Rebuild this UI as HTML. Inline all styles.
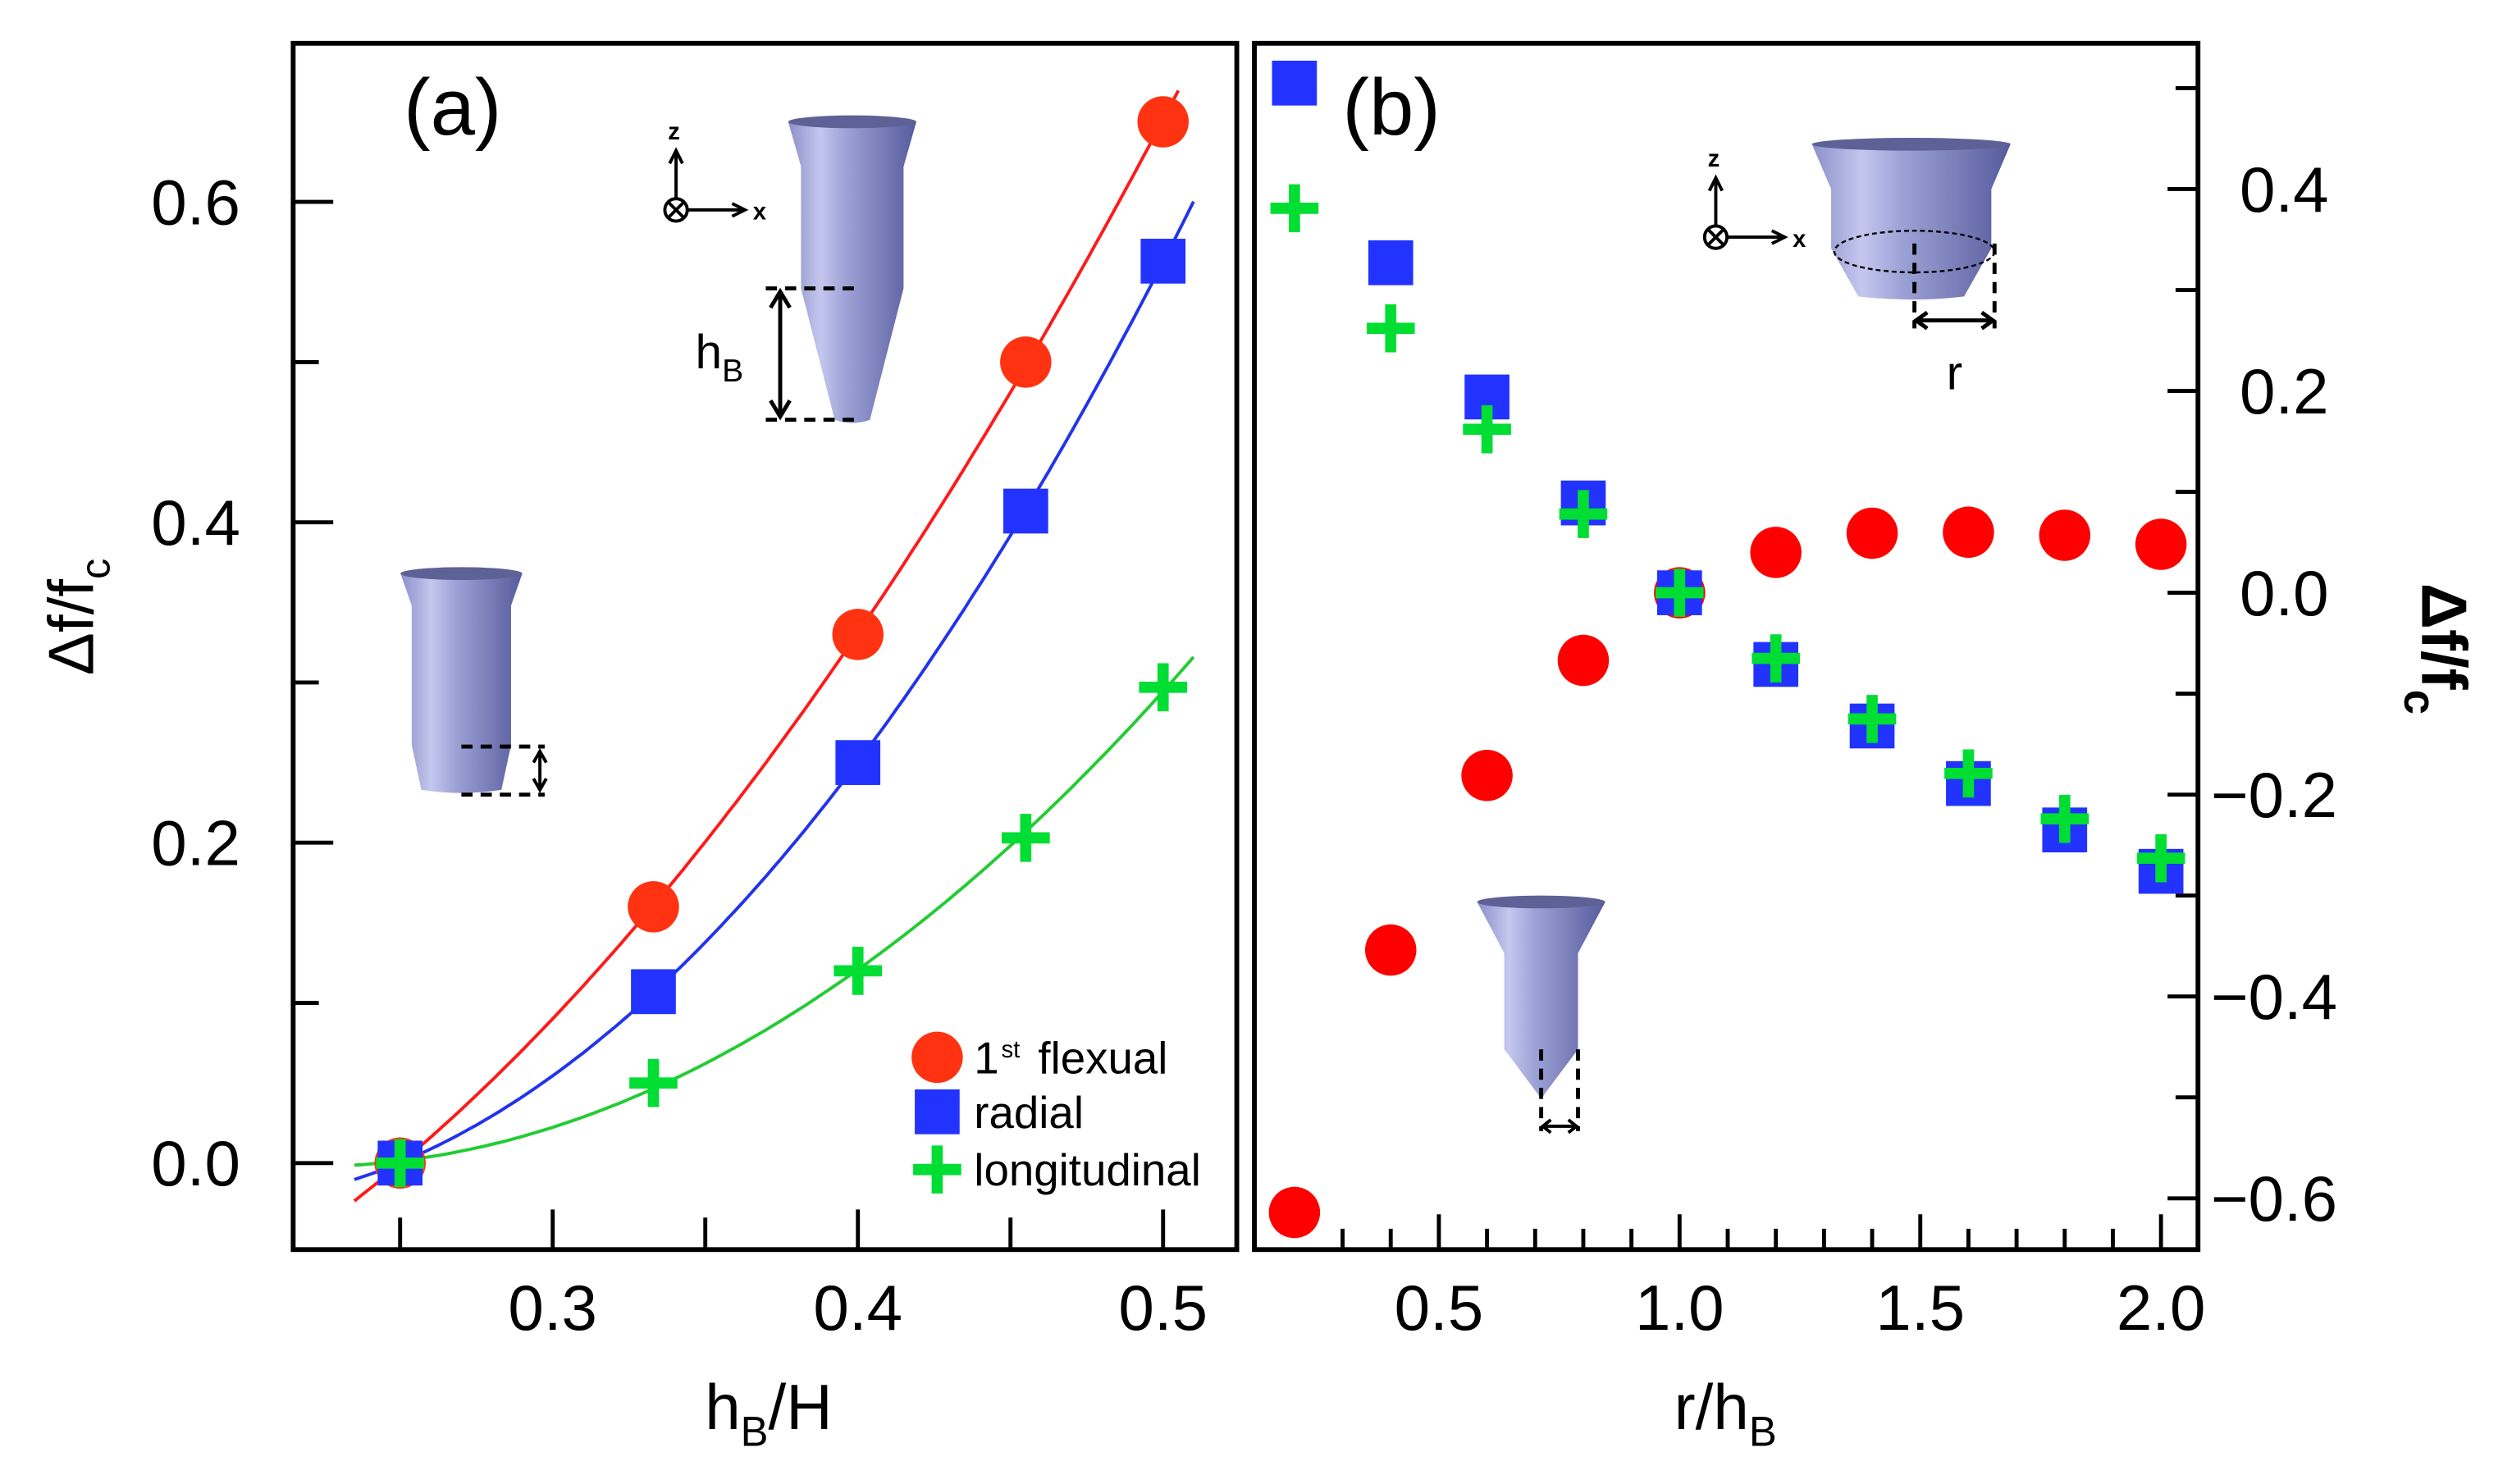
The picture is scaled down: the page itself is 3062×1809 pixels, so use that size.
<!DOCTYPE html>
<html><head><meta charset="utf-8"><style>
html,body{margin:0;padding:0;background:#fff}
svg{display:block}
text{font-family:"Liberation Sans",sans-serif;fill:#000}
</style></head><body>
<svg id="fig" xmlns="http://www.w3.org/2000/svg" width="3062" height="1809" viewBox="0 0 1568 926.3">
<defs>
<linearGradient id="metal" x1="0" x2="1" y1="0" y2="0">
<stop offset="0" stop-color="#8a8fc8"/><stop offset="0.25" stop-color="#c4c7ee"/><stop offset="0.45" stop-color="#9da2d6"/><stop offset="1" stop-color="#565b9c"/>
</linearGradient>
</defs>
<g id="panelA"></g>
<g id="panelB"></g>
</svg>
<script>
// ---- Panel (a) data ----
const aX = [0.25, 0.333, 0.4, 0.455, 0.5];
const aFlex = [0, 0.16, 0.33, 0.50, 0.65];
const aRadial = [0, 0.107, 0.25, 0.407, 0.563];
const aLong = [0, 0.05, 0.12, 0.203, 0.297];
const aXTicks = [0.3, 0.4, 0.5];
const aXTickLabels = ["0.3", "0.4", "0.5"];
const aYTicks = [0, 0.2, 0.4, 0.6];
const aYTickLabels = ["0.0", "0.2", "0.4", "0.6"];
// ---- Panel (b) data ----
const bX = [0.2, 0.4, 0.6, 0.8, 1.0, 1.2, 1.4, 1.6, 1.8, 2.0];
const bFlex = [-0.614, -0.354, -0.181, -0.067, 0.0, 0.04, 0.059, 0.06, 0.057, 0.048];
const bRadial = [0.505, 0.327, 0.194, 0.089, 0.0, -0.071, -0.132, -0.189, -0.235, -0.276];
const bLong = [0.381, 0.262, 0.162, 0.078, 0.0, -0.065, -0.125, -0.179, -0.224, -0.263];
const bXTicks = [0.5, 1.0, 1.5, 2.0];
const bXTickLabels = ["0.5", "1.0", "1.5", "2.0"];
const bYTicks = [0.4, 0.2, 0.0, -0.2, -0.4, -0.6];
const bYTickLabels = ["0.4", "0.2", "0.0", "\u22120.2", "\u22120.4", "\u22120.6"];

const NS = "http://www.w3.org/2000/svg";
function mk(parent, tag, attrs, txt) {
  const e = document.createElementNS(NS, tag);
  for (const k in attrs) e.setAttribute(k, attrs[k]);
  if (txt !== undefined) e.textContent = txt;
  parent.appendChild(e);
  return e;
}
// text with subscript parts: parts = [[text, isSub], ...]
function subText(parent, attrs, parts, subSize) {
  const t = mk(parent, "text", attrs);
  let down = false;
  parts.forEach(p => {
    const s = mk(t, "tspan", {}, p[0]);
    if (p[1] && !down) { s.setAttribute("dy", subSize * 0.4); s.setAttribute("font-size", subSize); down = true; }
    else if (!p[1] && down) { s.setAttribute("dy", -subSize * 0.4); down = false; }
  });
  return t;
}
const RED_A = "#ff3311", RED_B = "#ff0000", BLUE = "#2233ff", GREEN = "#00dd33";

function circle(g, cx, cy, col, name) {
  const e = mk(g, "circle", {cx: cx, cy: cy, r: 16, fill: col});
  
  
}
function square(g, cx, cy, name) {
  const e = mk(g, "rect", {x: cx - 14, y: cy - 14, width: 28, height: 28, fill: BLUE});
  
  
}
function plus(g, cx, cy, name) {
  const p = mk(g, "path", {d: `M${cx-15},${cy}H${cx+15}M${cx},${cy-15}V${cy+15}`, stroke: GREEN, "stroke-width": 7, fill: "none"});
  
  
}

// ================= Panel A =================
const A = document.getElementById("panelA");
const aL = 183, aR = 772, aT = 27, aB = 780;
const axA = v => 345 + (v - 0.3) * 1905;
const ayA = v => 726 - v * 1000;

function quadFit(xs, ys) {
  let S = [0,0,0,0,0], T = [0,0,0];
  for (let i = 0; i < xs.length; i++) {
    let p = 1;
    for (let k = 0; k < 5; k++) { S[k] += p; if (k < 3) T[k] += p * ys[i]; p *= xs[i]; }
  }
  const M = [[S[0],S[1],S[2],T[0]],[S[1],S[2],S[3],T[1]],[S[2],S[3],S[4],T[2]]];
  for (let i = 0; i < 3; i++) {
    for (let j = i + 1; j < 3; j++) {
      const f = M[j][i] / M[i][i];
      for (let k = i; k < 4; k++) M[j][k] -= f * M[i][k];
    }
  }
  const c = [0,0,0];
  for (let i = 2; i >= 0; i--) {
    let s = M[i][3];
    for (let k = i + 1; k < 3; k++) s -= M[i][k] * c[k];
    c[i] = s / M[i][i];
  }
  return x => c[0] + c[1] * x + c[2] * x * x;
}
function fitLine(ys, col, name, xEnd) {
  const f = quadFit(aX, ys);
  let d = "";
  for (let x = 0.235; x <= xEnd + 0.0001; x += 0.0025) d += (d ? "L" : "M") + axA(x).toFixed(1) + "," + ayA(f(x)).toFixed(1);
  const p = mk(A, "path", {d: d, stroke: col, "stroke-width": 2, fill: "none"});
  
  
}
fitLine(aFlex, "#ff1a1a", "flexural-fit-line", 0.505);
fitLine(aRadial, "#2233ee", "radial-fit-line", 0.51);
fitLine(aLong, "#22cc33", "longitudinal-fit-line", 0.51);

let tk = "";
for (let v = 0; v <= 0.65; v += 0.1) { const y = ayA(v); const big = Math.round(v * 10) % 2 === 0; tk += `M${aL},${y}H${aL + (big ? 25 : 16)}`; }
for (let v = 0.25; v <= 0.51; v += 0.05) { const x = axA(v); const big = Math.abs(v * 10 - Math.round(v * 10)) < 0.01; tk += `M${x},${aB}V${aB - (big ? 25 : 20)}`; }
const aTicks = mk(A, "path", {d: tk, stroke: "#000", "stroke-width": 2.5, fill: "none"});


const aFrame = mk(A, "rect", {x: aL, y: aT, width: aR - aL, height: aB - aT, fill: "none", stroke: "#000", "stroke-width": 3});



aYTicks.forEach((v, i) => {
  const t = mk(A, "text", {x: 150, y: ayA(v) + 14, "text-anchor": "end", "font-size": 40}, aYTickLabels[i]);
  
  
});
aXTicks.forEach((v, i) => {
  const t = mk(A, "text", {x: axA(v), y: 830, "text-anchor": "middle", "font-size": 40}, aXTickLabels[i]);
  
  
});

function tip(g, cx, yTop, wTop, yCone, wCyl, yCyl, yTip, wTip, name) {
  const gg = mk(g, "g", {});
  
  
  mk(gg, "path", {d: `M${cx - wTop/2},${yTop} L${cx - wCyl/2},${yCone} L${cx - wCyl/2},${yCyl} L${cx - wTip/2},${yTip} Q${cx},${yTip + 4} ${cx + wTip/2},${yTip} L${cx + wCyl/2},${yCyl} L${cx + wCyl/2},${yCone} L${cx + wTop/2},${yTop} Z`, fill: "url(#metal)"});
  mk(gg, "ellipse", {cx: cx, cy: yTop, rx: wTop/2, ry: 4, fill: "#5d6196"});
  return gg;
}
function axesIcon(g, x, y) {
  const gg = mk(g, "g", {stroke: "#000", "stroke-width": 2, fill: "none"});
  
  
  mk(gg, "circle", {cx: x, cy: y, r: 7});
  mk(gg, "path", {d: `M${x-5},${y-5}L${x+5},${y+5}M${x+5},${y-5}L${x-5},${y+5}M${x},${y-7}V${y-36}M${x-4},${y-29}L${x},${y-37}L${x+4},${y-29}M${x+7},${y}H${x+42}M${x+35},${y-4}L${x+43},${y}L${x+35},${y+4}`});
  mk(g, "text", {x: x - 5, y: y - 44, "font-size": 15, "font-weight": "bold"}, "z");
  mk(g, "text", {x: x + 48, y: y + 6, "font-size": 15, "font-weight": "bold"}, "x");
}
axesIcon(A, 422, 131);
tip(A, 532, 76, 80, 104, 64, 180, 262, 22, "inset-tip-long-base");
mk(A, "path", {d: "M478,180H535M478,262H535", stroke: "#000", "stroke-width": 2.5, "stroke-dasharray": "7,5", fill: "none"});
mk(A, "path", {d: "M487,184V258M481,192L487,182L493,192M481,250L487,260L493,250", stroke: "#000", "stroke-width": 2.5, fill: "none"});
subText(A, {x: 434, y: 230, "font-size": 30}, [["h", false], ["B", true]], 20);
tip(A, 288, 358, 76, 378, 62, 465, 493, 50, "inset-tip-short-base");
mk(A, "path", {d: "M288,466H340M288,496H340", stroke: "#000", "stroke-width": 2.5, "stroke-dasharray": "7,5", fill: "none"});
mk(A, "path", {d: "M337,470V492M333,476L337,469L341,476M333,486L337,493L341,486", stroke: "#000", "stroke-width": 2, fill: "none"});

aX.forEach((x, i) => circle(A, axA(x), ayA(aFlex[i]), RED_A, 'flexural-point'));
aX.forEach((x, i) => square(A, axA(x), ayA(aRadial[i]), 'radial-point'));
aX.forEach((x, i) => plus(A, axA(x), ayA(aLong[i]), 'longitudinal-point'));

const lg = mk(A, "g", {});


circle(lg, 585, 660, RED_A, 'legend-flexural-marker');
square(lg, 585, 694, 'legend-radial-marker');
plus(lg, 585, 730, 'legend-longitudinal-marker');
mk(lg, "text", {x: 608, y: 670, "font-size": 28}, "1");
mk(lg, "text", {x: 625, y: 660, "font-size": 15}, "st");
mk(lg, "text", {x: 648, y: 670, "font-size": 28}, "flexual");
mk(lg, "text", {x: 608, y: 704, "font-size": 28}, "radial");
mk(lg, "text", {x: 608, y: 740, "font-size": 28}, "longitudinal");

const pa = mk(A, "text", {x: 252, y: 84, "font-size": 50}, "(a)");


const xa = subText(A, {x: 440, y: 892, "font-size": 40}, [["h", false], ["B", true], ["/H", false]], 26);


const ya = mk(A, "g", {transform: "translate(58,385) rotate(-90)"});


subText(ya, {x: 0, y: 0, "font-size": 40, "text-anchor": "middle"}, [["\u0394f/f", false], ["c", true]], 26);

// ================= Panel B =================
const B = document.getElementById("panelB");
const bL = 783, bR = 1372, bT = 27, bB = 780;
const axB = v => 808 + (v - 0.2) * 300.5;
const ayB = v => 370 - v * 630;
let tb = "";
for (let k = -6; k <= 5; k++) { const y = ayB(k / 10); const big = k % 2 === 0; tb += `M${bR},${y}H${bR - (big ? 19 : 14)}`; }
for (let k = 3; k <= 20; k++) { const x = axB(k / 10); const big = k % 5 === 0; tb += `M${x},${bB}V${bB - (big ? 22 : 13)}`; }
const bTicks = mk(B, "path", {d: tb, stroke: "#000", "stroke-width": 2.5, fill: "none"});


const bFrame = mk(B, "rect", {x: bL, y: bT, width: bR - bL, height: bB - bT, fill: "none", stroke: "#000", "stroke-width": 3});


bYTicks.forEach((v, i) => {
  const t = mk(B, "text", {x: bYTickLabels[i].startsWith("\u2212") ? 1380 : 1398, y: ayB(v) + 14, "font-size": 40}, bYTickLabels[i]);
  
  
});
bXTicks.forEach((v, i) => {
  const t = mk(B, "text", {x: axB(v), y: 830, "text-anchor": "middle", "font-size": 40}, bXTickLabels[i]);
  
  
});
axesIcon(B, 1071, 148);
tip(B, 1193, 90, 124, 118, 100, 155, 185, 66, "inset-wide-tip");
mk(B, "ellipse", {cx: 1195, cy: 157, rx: 50, ry: 13, fill: "none", stroke: "#000", "stroke-width": 1.2, "stroke-dasharray": "3,2"});
mk(B, "path", {d: "M1195,152V205M1245,152V205", stroke: "#000", "stroke-width": 2.5, "stroke-dasharray": "7,5", fill: "none"});
mk(B, "path", {d: "M1196,200H1244M1203,195L1196,200L1203,205M1237,195L1244,200L1237,205", stroke: "#000", "stroke-width": 2.5, fill: "none"});
mk(B, "text", {x: 1215, y: 243, "font-size": 30}, "r");
tip(B, 962, 563, 80, 595, 46, 655, 683, 4, "inset-sharp-tip");
mk(B, "path", {d: "M962,655V706M985,655V706", stroke: "#000", "stroke-width": 2.5, "stroke-dasharray": "7,5", fill: "none"});
mk(B, "path", {d: "M963,703H984M968,699L963,703L968,707M979,699L984,703L979,707", stroke: "#000", "stroke-width": 2, fill: "none"});

bX.forEach((x, i) => circle(B, axB(x), ayB(bFlex[i]), RED_B, 'flexural-point-b'));
bX.forEach((x, i) => square(B, axB(x), ayB(bRadial[i]), 'radial-point-b'));
bX.forEach((x, i) => plus(B, axB(x), ayB(bLong[i]), 'longitudinal-point-b'));

const pb = mk(B, "text", {x: 838, y: 84, "font-size": 50}, "(b)");


const xb = subText(B, {x: 1045, y: 892, "font-size": 40}, [["r/h", false], ["B", true]], 26);


const yb = mk(B, "g", {transform: "translate(1512,405) rotate(90)"});


subText(yb, {x: 0, y: 0, "font-size": 40, "font-weight": "bold", "text-anchor": "middle"}, [["\u0394f/f", false], ["c", true]], 28);
</script>
</body></html>
